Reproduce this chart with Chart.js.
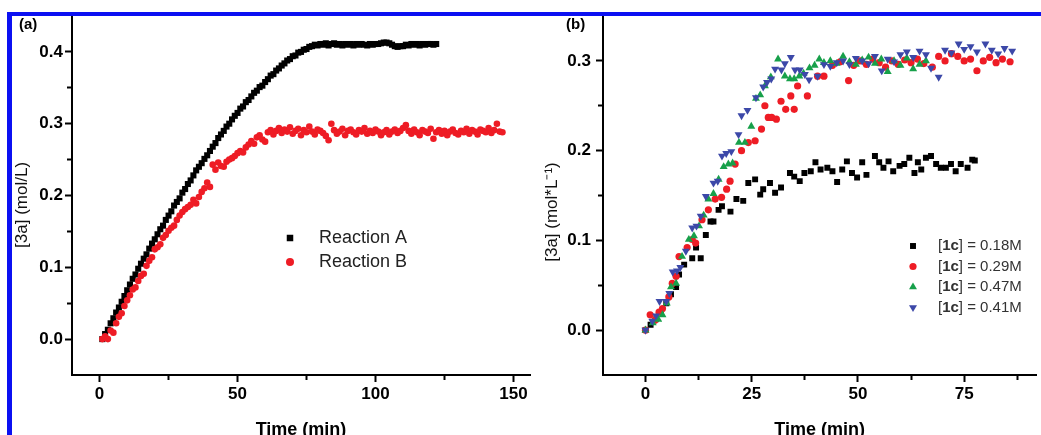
<!DOCTYPE html>
<html>
<head>
<meta charset="utf-8">
<script src="https://cdn.jsdelivr.net/npm/chart.js@4.4.1/dist/chart.umd.min.js"></script>
<style>
  html, body { margin: 0; padding: 0; background: #fff; overflow: hidden; }
  body { width: 1041px; height: 435px; position: relative; font-family: "Liberation Sans", Arial, sans-serif; }
  canvas { position: absolute; top: 0; }
  #chartA { left: 12px; }
  #chartB { left: 535px; }
  .frame-top { position: absolute; left: 7px; top: 12px; width: 1034px; height: 4px; background: #0b10f2; z-index: 2; }
  .frame-left { position: absolute; left: 7px; top: 12px; width: 5px; height: 423px; background: #0b10f2; z-index: 2; }
  .panel-tag { position: absolute; top: 16px; font: bold 15px "Liberation Sans", Arial, sans-serif; line-height: 15px; z-index: 3; }
</style>
</head>
<body>
<div class="frame-top"></div>
<div class="frame-left"></div>
<div class="panel-tag" style="left:19px">(a)</div>
<div class="panel-tag" style="left:566px">(b)</div>
<canvas id="chartA" width="523" height="441"></canvas>
<canvas id="chartB" width="506" height="441"></canvas>
<script>
// ---- panel (a) data ----
const timeA = [
  1, 2, 3, 4, 5, 6, 7, 8, 9, 10, 11, 12, 13, 14, 15, 16, 17, 18, 19, 20,
  21, 22, 23, 24, 25, 26, 27, 28, 29, 30, 31, 32, 33, 34, 35, 36, 37, 38, 39, 40,
  41, 42, 43, 44, 45, 46, 47, 48, 49, 50, 51, 52, 53, 54, 55, 56, 57, 58, 59, 60,
  61, 62, 63, 64, 65, 66, 67, 68, 69, 70, 71, 72, 73, 74, 75, 76, 77, 78, 79, 80,
  81, 82, 83, 84, 85, 86, 87, 88, 89, 90, 91, 92, 93, 94, 95, 96, 97, 98, 99, 100,
  101, 102, 103, 104, 105, 106, 107, 108, 109, 110, 111, 112, 113, 114, 115, 116, 117, 118, 119, 120,
  121, 122
];
const concA = [
  0.000, 0.007, 0.013, 0.022, 0.029, 0.037, 0.044, 0.052, 0.060, 0.068,
  0.076, 0.084, 0.090, 0.098, 0.105, 0.112, 0.118, 0.126, 0.133, 0.139,
  0.146, 0.153, 0.158, 0.166, 0.172, 0.178, 0.186, 0.191, 0.196, 0.204,
  0.209, 0.216, 0.221, 0.228, 0.235, 0.240, 0.245, 0.251, 0.256, 0.262,
  0.268, 0.273, 0.280, 0.285, 0.290, 0.296, 0.300, 0.306, 0.311, 0.315,
  0.321, 0.324, 0.330, 0.333, 0.338, 0.343, 0.346, 0.351, 0.353, 0.358,
  0.362, 0.367, 0.369, 0.374, 0.377, 0.381, 0.384, 0.388, 0.390, 0.394,
  0.395, 0.399, 0.400, 0.403, 0.404, 0.407, 0.408, 0.410, 0.409, 0.411,
  0.410, 0.412, 0.409, 0.411, 0.412, 0.410, 0.411, 0.409, 0.411, 0.410,
  0.411, 0.409, 0.411, 0.410, 0.411, 0.410, 0.409, 0.411, 0.410, 0.411,
  0.411, 0.412, 0.413, 0.413, 0.412, 0.410, 0.408, 0.407, 0.408, 0.408,
  0.410, 0.409, 0.411, 0.410, 0.411, 0.409, 0.411, 0.410, 0.411, 0.411,
  0.410, 0.411
];
const timeB = [
  1, 2, 3, 4, 5, 6, 7, 8, 9, 10, 11, 12, 13, 14, 15, 16, 17, 18, 19, 20,
  21, 22, 23, 24, 25, 26, 27, 28, 29, 30, 31, 32, 33, 34, 35, 36, 37, 38, 39, 40,
  41, 42, 43, 44, 45, 46, 47, 48, 49, 50, 51, 52, 53, 54, 55, 56, 57, 58, 59, 60,
  61, 62, 63, 64, 65, 66, 67, 68, 69, 70, 71, 72, 73, 74, 75, 76, 77, 78, 79, 80,
  81, 82, 83, 84, 85, 86, 87, 88, 89, 90, 91, 92, 93, 94, 95, 96, 97, 98, 99, 100,
  101, 102, 103, 104, 105, 106, 107, 108, 109, 110, 111, 112, 113, 114, 115, 116, 117, 118, 119, 120,
  121, 122, 123, 124, 125, 126, 127, 128, 129, 130, 131, 132, 133, 134, 135, 136, 137, 138, 139, 140,
  141, 142, 143, 144, 145, 146
];
const concB = [
  0.000, 0.004, 0.000, 0.012, 0.009, 0.022, 0.031, 0.036, 0.046, 0.054,
  0.061, 0.069, 0.072, 0.081, 0.088, 0.091, 0.102, 0.109, 0.114, 0.125,
  0.128, 0.132, 0.141, 0.145, 0.151, 0.155, 0.158, 0.166, 0.172, 0.177,
  0.181, 0.184, 0.187, 0.194, 0.189, 0.198, 0.205, 0.210, 0.218, 0.212,
  0.243, 0.236, 0.246, 0.241, 0.240, 0.247, 0.250, 0.252, 0.255, 0.259,
  0.262, 0.260, 0.267, 0.271, 0.276, 0.272, 0.281, 0.284, 0.278, 0.275,
  0.288, 0.291, 0.285, 0.290, 0.294, 0.287, 0.292, 0.289, 0.295, 0.286,
  0.290, 0.293, 0.284, 0.291, 0.288, 0.296, 0.289, 0.285, 0.292, 0.290,
  0.287, 0.283, 0.277, 0.300, 0.291, 0.286, 0.289, 0.293, 0.284, 0.290,
  0.292, 0.288, 0.285, 0.291, 0.289, 0.294, 0.286, 0.290, 0.287, 0.292,
  0.289, 0.284, 0.288, 0.291, 0.285, 0.289, 0.292, 0.287, 0.290, 0.294,
  0.298, 0.290, 0.286, 0.292, 0.288, 0.284, 0.291, 0.289, 0.287, 0.293,
  0.279, 0.288, 0.291, 0.286, 0.290, 0.284, 0.289, 0.292, 0.287, 0.285,
  0.290, 0.288, 0.293, 0.286, 0.291, 0.289, 0.285, 0.292, 0.290, 0.288,
  0.294, 0.287, 0.291, 0.300, 0.289, 0.288
];
const labelsA = ['Reaction A', 'Reaction B'];

// ---- panel (b) data ----
const time018 = [0, 1.2, 2.4, 3.6, 4.9, 6.0, 7.2, 7.9, 9.1, 11.0, 11.9, 13.0, 14.2, 15.3, 16.0, 17.2, 18.0, 20.0, 21.4, 23.0,
  24.2, 25.8, 27.0, 27.7, 29.3, 30.5, 31.9, 34.0, 35.0, 36.3, 37.4, 38.9, 40.0, 41.2, 42.8, 44.0, 45.1, 46.3, 47.4, 48.6,
  49.8, 51.0, 52.0, 54.0, 55.0, 56.0, 57.2, 58.3, 59.8, 60.9, 62.1, 63.3, 64.1, 64.9, 66.0, 67.2, 68.4, 69.5, 70.7, 71.9,
  73.0, 74.2, 75.8, 76.9, 77.5];
const conc018 = [0.000, 0.006, 0.012, 0.020, 0.030, 0.040, 0.048, 0.062, 0.073, 0.080, 0.092, 0.080, 0.106, 0.121, 0.121, 0.134, 0.138, 0.132, 0.146, 0.144,
  0.164, 0.168, 0.151, 0.157, 0.164, 0.153, 0.159, 0.175, 0.171, 0.166, 0.175, 0.177, 0.187, 0.179, 0.181, 0.177, 0.165, 0.179, 0.188, 0.175,
  0.170, 0.187, 0.173, 0.194, 0.187, 0.181, 0.188, 0.177, 0.183, 0.185, 0.192, 0.175, 0.187, 0.179, 0.192, 0.194, 0.185, 0.181, 0.181, 0.185,
  0.177, 0.185, 0.181, 0.190, 0.189];

const time029 = [0, 1.1, 2.2, 3.2, 4.0, 5.5, 6.3, 7.2, 7.9, 9.8, 11.0, 11.8, 13.3, 14.8, 16.4, 17.9, 19.1, 19.9, 21.1, 22.6,
  24.2, 25.8, 27.3, 28.1, 28.9, 29.7, 30.8, 31.9, 33.0, 34.2, 35.0, 35.8, 38.1, 40.5, 42.0, 44.0, 45.8, 47.8, 49.0, 50.5,
  52.0, 53.5, 55.0, 56.5, 58.0, 59.5, 61.0, 62.5, 64.0, 65.5, 67.5, 69.0, 70.5, 72.0, 73.5, 75.0, 76.5, 78.0, 79.5, 81.0,
  82.5, 84.0, 85.8];
const conc029 = [0.000, 0.017, 0.011, 0.020, 0.024, 0.037, 0.052, 0.060, 0.082, 0.092, 0.101, 0.097, 0.123, 0.134, 0.146, 0.148, 0.157, 0.166, 0.185, 0.200,
  0.209, 0.211, 0.224, 0.250, 0.237, 0.237, 0.235, 0.255, 0.246, 0.261, 0.246, 0.272, 0.261, 0.283, 0.283, 0.295, 0.299, 0.278, 0.295, 0.300,
  0.296, 0.302, 0.298, 0.293, 0.300, 0.296, 0.301, 0.298, 0.302, 0.297, 0.293, 0.305, 0.300, 0.308, 0.305, 0.300, 0.302, 0.289, 0.300, 0.304,
  0.298, 0.302, 0.299];

const time047 = [0, 1.7, 3.0, 4.0, 5.0, 6.0, 7.2, 8.6, 10.2, 11.4, 12.6, 13.7, 14.8, 16.0, 17.2, 18.4, 19.5, 20.5, 22.0, 23.4,
  24.9, 26.0, 27.0, 28.1, 29.5, 31.2, 32.8, 34.0, 35.0, 36.2, 37.2, 38.6, 39.8, 40.9, 42.0, 43.5, 45.0, 46.5, 48.0, 49.5,
  51.0, 52.5, 54.0, 55.5, 57.0, 58.5, 60.0, 61.5, 63.0, 64.5, 66.0];
const conc047 = [0.000, 0.008, 0.012, 0.017, 0.030, 0.048, 0.052, 0.082, 0.101, 0.105, 0.116, 0.128, 0.146, 0.152, 0.168, 0.182, 0.185, 0.186, 0.209, 0.209,
  0.227, 0.258, 0.262, 0.272, 0.282, 0.302, 0.283, 0.280, 0.280, 0.283, 0.286, 0.292, 0.295, 0.302, 0.298, 0.300, 0.297, 0.305, 0.299, 0.296,
  0.301, 0.304, 0.297, 0.302, 0.288, 0.300, 0.295, 0.303, 0.291, 0.296, 0.300];

const time041 = [0, 1.6, 2.5, 3.3, 4.9, 5.6, 6.4, 7.4, 8.2, 9.5, 11.0, 12.0, 13.0, 14.2, 16.0, 17.0, 18.0, 19.0, 20.2, 21.9,
  22.6, 24.0, 26.0, 27.7, 28.6, 29.6, 30.5, 32.0, 32.8, 34.2, 35.2, 36.3, 37.5, 38.5, 40.5, 42.0, 43.5, 45.0, 46.5, 48.0,
  49.5, 51.0, 52.5, 54.0, 55.6, 57.0, 58.5, 60.0, 61.5, 63.0, 64.5, 66.0, 67.2, 69.0, 70.5, 72.0, 73.7, 75.0, 76.5, 78.0,
  80.0, 81.5, 83.0, 84.5, 86.3];
const conc041 = [0.000, 0.010, 0.016, 0.032, 0.032, 0.041, 0.065, 0.066, 0.070, 0.088, 0.114, 0.116, 0.127, 0.149, 0.164, 0.166, 0.194, 0.197, 0.199, 0.218,
  0.239, 0.245, 0.259, 0.271, 0.276, 0.280, 0.291, 0.290, 0.297, 0.304, 0.290, 0.290, 0.285, 0.279, 0.283, 0.296, 0.294, 0.298, 0.300, 0.296,
  0.303, 0.300, 0.297, 0.305, 0.289, 0.302, 0.299, 0.307, 0.310, 0.304, 0.311, 0.307, 0.292, 0.282, 0.312, 0.309, 0.319, 0.313, 0.316, 0.310,
  0.319, 0.312, 0.308, 0.314, 0.311];

const labelsB = ['[1c] = 0.18M', '[1c] = 0.29M', '[1c] = 0.47M', '[1c] = 0.41M'];

// labelled tick values
const xTicksA = [0, 50, 100, 150];
const yTicksA = [0, 0.1, 0.2, 0.3, 0.4];
const xTicksB = [0, 25, 50, 75];
const yTicksB = [0, 0.1, 0.2, 0.3];

Chart.defaults.font.family = '"Liberation Sans", Arial, sans-serif';
Chart.defaults.color = '#000';

const pts = (xs, ys) => xs.map((x, i) => ({x: x, y: ys[i]}));
const near = (list, v) => list.some(t => Math.abs(t - v) < 1e-6);

// grid/tick styling: labelled ticks long, others short, the two ends hidden
function tickGrid(labels, lo, hi, side) {
    const kind = v => near(labels, v) ? 'major'
        : (Math.abs(v - lo) < 1e-6 || Math.abs(v - hi) < 1e-6) ? 'edge' : 'minor';
    return {
        drawOnChartArea: false,
        tickLength: 7,
        tickWidth: 2,
        tickColor: ctx => (ctx.tick && kind(ctx.tick.value) === 'edge') ? 'rgba(0,0,0,0)' : '#000',
        tickBorderDash: ctx => (ctx.tick && kind(ctx.tick.value) === 'minor')
            ? (side === 'left' ? [0, 2, 10] : [4, 10]) : [],
    };
}

// legend drawn inside the plot, like the original
const markerLegend = {
    id: 'markerLegend',
    afterDatasetsDraw(chart, args, opts) {
        const ctx = chart.ctx;
        ctx.save();
        ctx.textBaseline = 'middle';
        ctx.textAlign = 'left';
        chart.data.datasets.forEach((d, i) => {
            const y = opts.y + i * opts.rowGap;
            ctx.fillStyle = d.backgroundColor;
            Chart.helpers.drawPoint(ctx, {
                pointStyle: d.pointStyle,
                radius: opts.markerRadius[i],
                rotation: d.rotation || 0,
                borderWidth: 0,
            }, opts.markerX, y);
            const m = d.label.match(/^\[(.+?)\](.*)$/);
            const parts = m ? [['[', false], [m[1], true], [']' + m[2], false]] : [[d.label, false]];
            let x = opts.textX;
            ctx.fillStyle = opts.color;
            parts.forEach(([txt, bold]) => {
                ctx.font = (bold ? 'bold ' : '') + opts.fontSize + 'px "Liberation Sans", Arial, sans-serif';
                ctx.fillText(txt, x, y);
                x += ctx.measureText(txt).width;
            });
        });
        ctx.restore();
    }
};

function makeOptions(cfg) {
    return {
        responsive: false,
        animation: false,
        events: [],
        layout: { padding: { left: cfg.padLeft, right: cfg.padRight, top: 16, bottom: 0 } },
        plugins: {
            legend: { display: false },
            tooltip: { enabled: false },
            markerLegend: cfg.legend,
        },
        scales: {
            x: {
                type: 'linear',
                min: cfg.xMin,
                max: cfg.xMax,
                border: { display: true, color: '#000', width: 2 },
                grid: tickGrid(cfg.xLabels, cfg.xMin, cfg.xMax, 'bottom'),
                ticks: {
                    stepSize: cfg.xStep,
                    includeBounds: false,
                    autoSkip: false,
                    maxRotation: 0,
                    maxTicksLimit: 40,
                    padding: 2,
                    color: '#000',
                    font: { size: 17, weight: 'bold' },
                    callback: v => near(cfg.xLabels, v) ? String(Math.round(v)) : '',
                },
                title: {
                    display: true,
                    text: 'Time (min)',
                    color: '#000',
                    font: { size: 18, weight: 'bold' },
                    padding: { top: 0, bottom: 0 },
                },
                afterFit: scale => { scale.height = 66; scale.paddingLeft = 0; scale.paddingRight = 0; },
            },
            y: {
                type: 'linear',
                min: cfg.yMin,
                max: cfg.yMax,
                border: { display: true, color: '#000', width: 2 },
                grid: tickGrid(cfg.yLabels, cfg.yMin, cfg.yMax, 'left'),
                ticks: {
                    stepSize: 0.05,
                    autoSkip: false,
                    maxTicksLimit: 40,
                    padding: cfg.yPad,
                    color: '#000',
                    font: { size: 17, weight: 'bold' },
                    callback: v => near(cfg.yLabels, v) ? (Math.round(v * 10) / 10 + 0).toFixed(1).replace('-0.0', '0.0') : '',
                },
                title: {
                    display: true,
                    text: cfg.yTitle,
                    color: '#111',
                    font: { size: 17 },
                    padding: { top: 0, bottom: 0 },
                },
                afterFit: scale => { scale.width = cfg.yWidth; },
            },
        },
    };
}

// ---- chart (a) ----
new Chart(document.getElementById('chartA'), {
    type: 'scatter',
    data: {
        datasets: [{
            label: labelsA[0],
            data: pts(timeA, concA),
            pointStyle: 'rect',
            pointRadius: 4.3,
            borderWidth: 0,
            backgroundColor: '#000000',
            order: 1,
        }, {
            label: labelsA[1],
            data: pts(timeB, concB),
            pointStyle: 'circle',
            pointRadius: 3.3,
            borderWidth: 0,
            backgroundColor: '#ee1c25',
            order: 0,
        }],
    },
    options: makeOptions({
        padLeft: 0, padRight: 5,
        xMin: -10, xMax: 156, xStep: 25, xLabels: xTicksA,
        yMin: -0.05, yMax: 0.45, yLabels: yTicksA, yPad: 2, yWidth: 60,
        yTitle: '[3a] (mol/L)\u00a0\u00a0\u00a0\u00a0',
        legend: { markerX: 278, textX: 307, y: 238, rowGap: 24, fontSize: 18, markerRadius: [4.6, 4.0], color: '#222' },
    }),
    plugins: [markerLegend],
});

// ---- chart (b) ----
new Chart(document.getElementById('chartB'), {
    type: 'scatter',
    data: {
        datasets: [{
            label: labelsB[0],
            data: pts(time018, conc018),
            pointStyle: 'rect',
            pointRadius: 4.2,
            borderWidth: 0,
            backgroundColor: '#000000',
            order: 3,
        }, {
            label: labelsB[1],
            data: pts(time029, conc029),
            pointStyle: 'circle',
            pointRadius: 3.6,
            borderWidth: 0,
            backgroundColor: '#ee1c25',
            order: 2,
        }, {
            label: labelsB[2],
            data: pts(time047, conc047),
            pointStyle: 'triangle',
            pointRadius: 4.6,
            borderWidth: 0,
            backgroundColor: '#17a04a',
            order: 1,
        }, {
            label: labelsB[3],
            data: pts(time041, conc041),
            pointStyle: 'triangle',
            rotation: 180,
            pointRadius: 4.6,
            borderWidth: 0,
            backgroundColor: '#3c48a8',
            order: 0,
        }],
    },
    options: makeOptions({
        padLeft: 7, padRight: 0,
        xMin: -10, xMax: 92, xStep: 12.5, xLabels: xTicksB,
        yMin: -0.05, yMax: 0.35, yLabels: yTicksB, yPad: 5, yWidth: 61,
        yTitle: '[3a] (mol*L\u207b\u00b9)\u00a0\u00a0\u00a0\u00a0\u00a0\u00a0\u00a0',
        legend: { markerX: 378, textX: 403, y: 246, rowGap: 20.5, fontSize: 15, markerRadius: [4.2, 3.6, 4.6, 4.6], color: '#333' },
    }),
    plugins: [markerLegend],
});
</script>
</body>
</html>
